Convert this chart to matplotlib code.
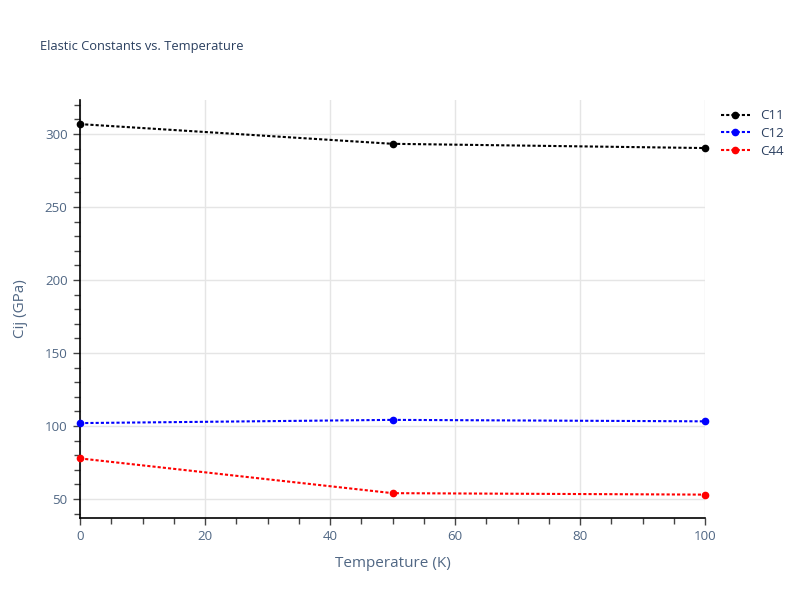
import numpy as np
import matplotlib.pyplot as plt
from matplotlib.ticker import MultipleLocator

temperature = [0, 50, 100]
c11 = [306.8, 293.3, 290.4]
c12 = [102.0, 104.2, 103.2]
c44 = [77.8, 54.0, 53.0]

names = ['C11', 'C12', 'C44']
colors = ['black', 'blue', 'red']

plt.rcParams['font.family'] = ['Open Sans', 'DejaVu Sans']
text_col = '#2a3f5f'
tick_col = '#506784'

fig = plt.figure(figsize=(8, 6), dpi=100)
ax = fig.add_axes([0.1, 0.1367, 0.78125, 0.6966])

for y, name, col in zip([c11, c12, c44], names, colors):
    ax.plot(temperature, y, linestyle=(0, (1.5, 1.0)), lw=1.5, color=col,
            marker='o', ms=4.5, label=name, clip_on=False, zorder=3)

ax.set_xlim(0, 100)
ax.set_ylim(37, 323.3)
ax.xaxis.set_major_locator(MultipleLocator(20))
ax.xaxis.set_minor_locator(MultipleLocator(5))
ax.yaxis.set_major_locator(MultipleLocator(50))
ax.yaxis.set_minor_locator(MultipleLocator(10))
ax.grid(True, which='major', color='#e5e5e5', lw=1, zorder=0)
ax.set_axisbelow(True)

for s in ['top', 'right']:
    ax.spines[s].set_visible(False)
for s in ['left', 'bottom']:
    ax.spines[s].set_color('black')
    ax.spines[s].set_linewidth(1.2)

ax.tick_params(which='both', direction='out', color='#444444', labelcolor=tick_col,
               labelsize=9.6, width=1)
ax.tick_params(which='major', length=5, pad=4)
ax.tick_params(which='minor', length=4)

ax.set_xlabel('Temperature (K)', color=tick_col, fontsize=11, labelpad=9)
ax.set_ylabel('Cij (GPa)', color=tick_col, fontsize=11, labelpad=12)
fig.text(0.05, 0.923, 'Elastic Constants vs. Temperature', color=text_col,
         fontsize=9.3, va='center', ha='left')

leg = ax.legend(loc='upper left', bbox_to_anchor=(1.01, 1.0), frameon=False,
                fontsize=9.6, handlelength=2.2, labelspacing=0.35, borderaxespad=0.3)
for t in leg.get_texts():
    t.set_color(text_col)

fig.savefig('out.png', dpi=100)
